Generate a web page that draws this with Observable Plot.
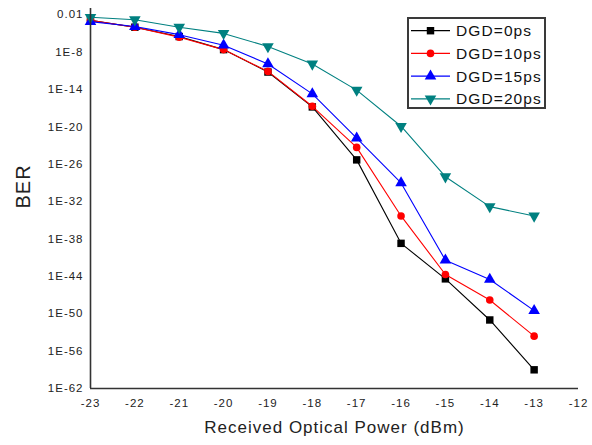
<!DOCTYPE html>
<html>
<head>
<meta charset="utf-8">
<script src="https://cdn.jsdelivr.net/npm/d3@7"></script>
<script src="https://cdn.jsdelivr.net/npm/@observablehq/plot@0.6"></script>
<style>
  body { margin: 0; background: #fff; }
  #wrap { position: relative; width: 592px; height: 445px; font-family: "Liberation Sans", Arial, sans-serif; }
  #wrap svg text { letter-spacing: 1px; }
  g[aria-label="xlabel"] text { letter-spacing: 0.9px; }
  #legend { position: absolute; left: 407px; top: 17px; width: 135px; height: 88px; border: 2px solid #3a3a3a; background: #fff; }
</style>
</head>
<body>
<div id="wrap"></div>
<script>
// ---- data (BER as log10 exponent) ----
const xValues = [-23, -22, -21, -20, -19, -18, -17, -16, -15, -14, -13];
const seriesNames = ["DGD=0ps", "DGD=10ps", "DGD=15ps", "DGD=20ps"];
const seriesColors = ["#000000", "#ff0000", "#0000ff", "#008080"];
const dgd0Log10 = [-2.9, -4.0, -5.5, -7.6, -11.2, -16.8, -25.3, -38.7, -44.4, -51.0, -59.0];
const dgd10Log10 = [-2.9, -4.0, -5.6, -7.6, -11.1, -16.7, -23.3, -34.3, -43.7, -47.8, -53.6];
const dgd15Log10 = [-3.1, -3.9, -5.2, -6.9, -9.9, -14.7, -21.8, -29.0, -41.4, -44.5, -49.5];
const dgd20Log10 = [-2.4, -2.8, -4.0, -5.0, -7.1, -9.9, -14.1, -19.9, -28.0, -32.8, -34.3];
const xTickValues = [-23, -22, -21, -20, -19, -18, -17, -16, -15, -14, -13, -12];
const yTickExponents = [-2, -8, -14, -20, -26, -32, -38, -44, -50, -56, -62];
const yTickLabels = ["0.01", "1E-8", "1E-14", "1E-20", "1E-26", "1E-32", "1E-38", "1E-44", "1E-50", "1E-56", "1E-62"];
const xLabel = "Received Optical Power (dBm)";
const yLabel = "BER";

// ---- symbols ----
const triangleDown = {
  draw(context, size) {
    const y = Math.sqrt(size / (Math.sqrt(3) * 3));
    context.moveTo(0, 2 * y);
    context.lineTo(Math.sqrt(3) * y, -y);
    context.lineTo(-Math.sqrt(3) * y, -y);
    context.closePath();
  }
};
const seriesSymbols = ["square", "circle", "triangle", triangleDown];
const seriesR = [4.2, 3.8, 4.3, 4.3];
const seriesLog = [dgd0Log10, dgd10Log10, dgd15Log10, dgd20Log10];

const yTickValues = yTickExponents.map(e => 10 ** e);
const seriesData = seriesLog.map(arr => xValues.map((x, i) => ({x, ber: 10 ** arr[i]})));

const marks = [];
seriesData.forEach((rows, k) => {
  marks.push(Plot.line(rows, {x: "x", y: "ber", stroke: seriesColors[k], strokeWidth: 1.1}));
  marks.push(Plot.dot(rows, {x: "x", y: "ber", fill: seriesColors[k], stroke: "none", symbol: seriesSymbols[k], r: seriesR[k]}));
});

const chart = Plot.plot({
  width: 592,
  height: 445,
  marginLeft: 90,
  marginRight: 14,
  marginTop: 8,
  marginBottom: 57,
  style: {fontFamily: '"Liberation Sans", Arial, sans-serif', background: "#fff", color: "#222"},
  x: {domain: [-23, -12]},
  y: {type: "log", domain: [1e-62, 1e-1]},
  marks: [
    Plot.axisX({ticks: xTickValues, tickSize: 0, tickPadding: 10, fontSize: 11.5, label: null, tickFormat: d => String(d)}),
    Plot.axisY({ticks: yTickValues, tickSize: 0, tickPadding: 7, fontSize: 11.5, label: null,
      tickFormat: d => yTickLabels[yTickValues.indexOf(d)]}),
    ...marks,
    Plot.ruleX([-23], {stroke: "#333", strokeWidth: 1.6}),
    Plot.ruleY([1e-62], {stroke: "#333", strokeWidth: 1.6}),
    Plot.text([xLabel], {frameAnchor: "bottom", text: d => d, dy: 44, fontSize: 17, fill: "#222", ariaLabel: "xlabel"}),
    Plot.text([yLabel], {frameAnchor: "left", text: d => d, dx: -67, dy: 10, rotate: -90, fontSize: 20, fill: "#222"})
  ]
});

const wrap = document.getElementById("wrap");
wrap.appendChild(chart);

// ---- legend ----
const legend = document.createElement("div");
legend.id = "legend";
wrap.appendChild(legend);
const lsvg = d3.select(legend).append("svg").attr("width", 135).attr("height", 88);
seriesNames.forEach((name, k) => {
  const cy = 11.7 + k * 22.7;
  const g = lsvg.append("g").attr("transform", `translate(0,${cy})`);
  g.append("line").attr("x1", 2).attr("x2", 41).attr("y1", 0).attr("y2", 0)
    .attr("stroke", seriesColors[k]).attr("stroke-width", 1.2);
  const sym = typeof seriesSymbols[k] === "string"
    ? {square: d3.symbolSquare, circle: d3.symbolCircle, triangle: d3.symbolTriangle}[seriesSymbols[k]]
    : seriesSymbols[k];
  g.append("path").attr("transform", "translate(21.5,0)")
    .attr("d", d3.symbol(sym, seriesR[k] * seriesR[k] * Math.PI)())
    .attr("fill", seriesColors[k]);
  g.append("text").attr("x", 47).attr("y", 0).attr("dy", "0.36em")
    .attr("font-size", 15.5).attr("fill", "#111")
    .style("letter-spacing", "1.1px")
    .style("font-family", '"Liberation Sans", Arial, sans-serif')
    .text(name);
});
</script>
</body>
</html>
